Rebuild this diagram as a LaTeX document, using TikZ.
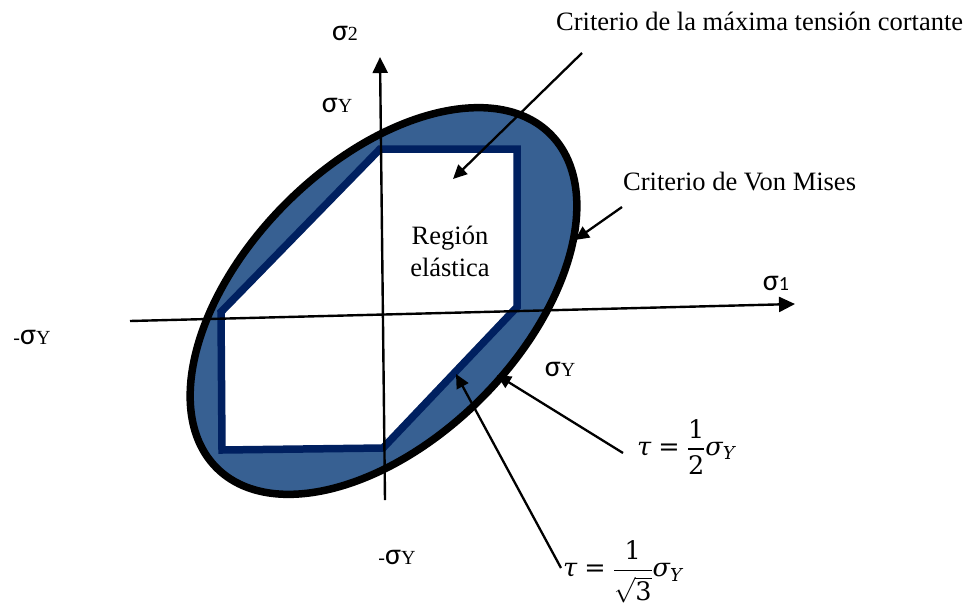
\documentclass[tikz,border=0pt]{standalone}
\usepackage{fix-cm}
\usepackage{amsmath}
\usepackage{fontspec}
\setmainfont{Liberation Serif}
\newfontfamily\calib{Carlito}
\newfontfamily\mathtxt{DejaVu Serif}
\usetikzlibrary{arrows.meta}
\definecolor{fillblue}{HTML}{376092}
\definecolor{hexnavy}{HTML}{002060}
\newcommand\sg{{\calib\fontsize{30}{30}\selectfont σ}}
\newcommand\smallch[1]{{\fontsize{20}{20}\selectfont #1}}
\newcommand\mi[1]{\text{\mathtxt\itshape #1}}
\newcommand\mn[1]{\text{\mathtxt #1}}
\begin{document}
\begin{tikzpicture}[x=1pt,y=-1pt,
  lbl/.style={font=\fontsize{26.5}{32}\selectfont, inner sep=0pt},
  mathlbl/.style={font=\fontsize{25.5}{30}\selectfont, inner sep=0pt},
  axisline/.style={line width=2.4pt, -{Triangle[length=16pt,width=15pt]}},
  callout/.style={line width=2.3pt, -{Triangle[length=14pt,width=13pt]}}]
\useasboundingbox (0,0) rectangle (968,608);
% ellipse (Von Mises)
\coordinate (E) at (383.5,301);
\draw[line width=7.5pt, fill=fillblue, rotate around={45:(E)}] (E) ellipse [x radius=236pt, y radius=138pt];
% hexagon (Tresca)
\coordinate (h1) at (380,149);
\coordinate (h2) at (517,149);
\coordinate (h3) at (517,307);
\coordinate (h4) at (383,448);
\coordinate (h5) at (222,450);
\coordinate (h6) at (221,312);
\draw[hexnavy, line width=7.5pt, fill=white] (h1)--(h2)--(h3)--(h4)--(h5)--(h6)--cycle;
% axes
\coordinate (xa) at (130,321);
\coordinate (xb) at (795,304);
\coordinate (ya) at (385,500);
\coordinate (yb) at (380,57);
\draw[axisline] (xa) -- (xb);
\draw[axisline] (ya) -- (yb);
% callouts
\coordinate (c1s) at (582,53);
\coordinate (c1e) at (453,179);
\coordinate (c2s) at (622,207);
\coordinate (c2e) at (575,240);
\coordinate (c3s) at (623,453);
\coordinate (c3e) at (497,375);
\coordinate (c4s) at (561,568);
\coordinate (c4e) at (456,374);
\draw[callout] (c1s) -- (c1e);
\draw[callout] (c2s) -- (c2e);
\draw[callout] (c3s) -- (c3e);
\draw[callout] (c4s) -- (c4e);
% texts
\node[lbl, anchor=base west] (tmax) at (556,30) {Criterio de la máxima tensión cortante};
\node[lbl, anchor=base west] (tvm) at (623,190) {Criterio de Von Mises};
\node[lbl, align=center] (reg) at (450,251) {Región\\elástica};
\node[mathlbl, anchor=west] (tau2) at (637,447) {$\mi{τ}\mathrel{\mn{=}}\genfrac{}{}{1.8pt}{0}{\mn{1}}{\mn{2}}\mi{σ}_{\mi{Y}}$};
\node[mathlbl, anchor=west] (tau3) at (563,572) {$\mi{τ}\mathrel{\mn{=}}\genfrac{}{}{1.8pt}{0}{\mn{1}}{\sqrt{\mn{3}}}\mi{σ}_{\mi{Y}}$};
% sigma labels
\node[lbl] (s2) at (345,33) {\sg\smallch{2}};
\node[lbl] (sYt) at (337,105) {\sg\smallch{Y}};
\node[lbl] (s1) at (776,283) {\sg{\calib\fontsize{20}{20}\selectfont 1}};
\node[lbl] (sYl) at (32,337) {\smallch{-}\sg\smallch{Y}};
\node[lbl] (sYr) at (560,369) {\sg\smallch{Y}};
\node[lbl] (sYb) at (397,557) {\smallch{-}\sg\smallch{Y}};
\end{tikzpicture}
\end{document}
